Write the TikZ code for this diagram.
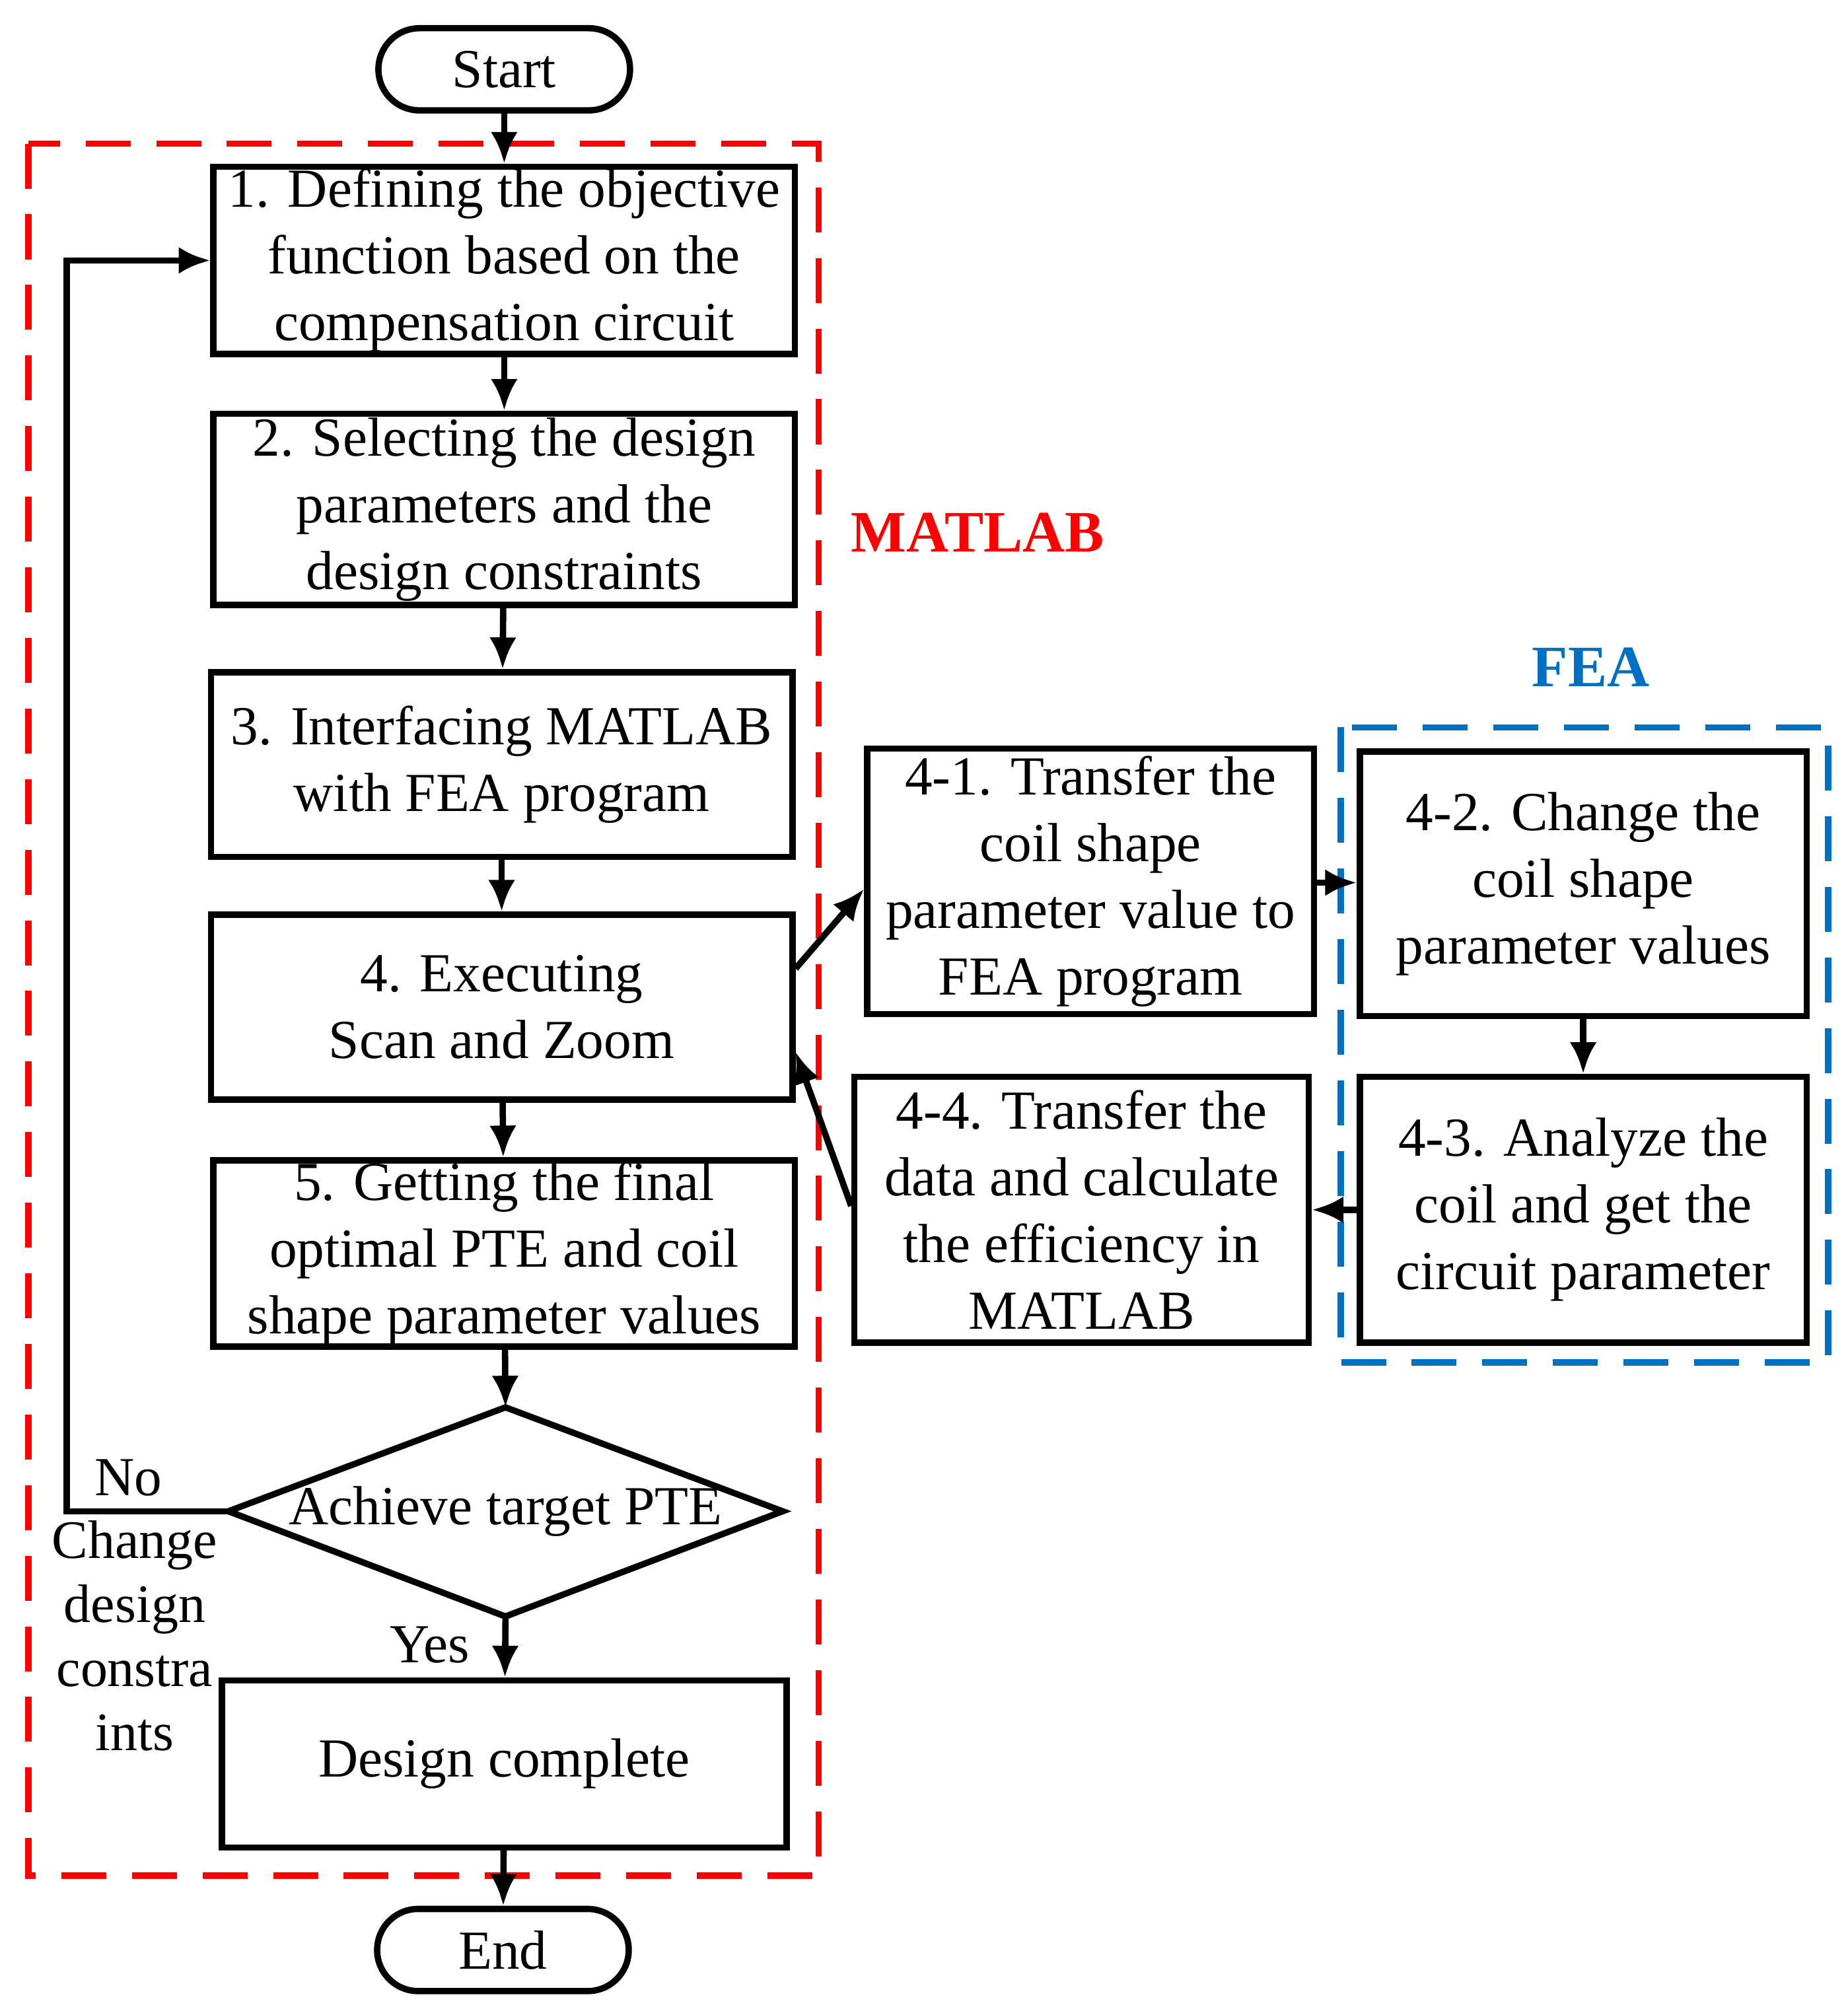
\documentclass[tikz,border=0pt]{standalone}
\usepackage{fontspec}
\setmainfont{Liberation Serif}
\usetikzlibrary{shapes.geometric,arrows.meta}
\definecolor{feablue}{RGB}{0,112,192}
\begin{document}
\begin{tikzpicture}[x=0.01cm,y=-0.01cm,
  every node/.style={font=\fontsize{12.2}{14.8}\selectfont},
  box/.style={draw,line width=1.4pt,align=center,inner sep=0pt},
  arr/.style={line width=1.4pt,-{Latex[length=7pt,width=6pt]}},
  term/.style={draw,line width=1.4pt,rounded corners=0.32cm,minimum width=1.96cm,minimum height=0.64cm,inner sep=0pt}]
\useasboundingbox (0,0) rectangle (1440,1566);
\draw[red,line width=1.4pt,dash pattern=on 0.35cm off 0.2cm] (22,112) rectangle (638,1462);
\draw[feablue,line width=1.4pt,dash pattern=on 0.35cm off 0.2cm] (1045,567) rectangle (1425,1062);
\node[term] (s) at (393,54) {Start};
\node[box,minimum width=4.53cm,minimum height=1.46cm] (b1) at (393,203) {1. Defining the objective\\function based on the\\compensation circuit};
\node[box,minimum width=4.53cm,minimum height=1.49cm] (b2) at (393,397) {2. Selecting the design\\parameters and the\\design constraints};
\node[box,minimum width=4.53cm,minimum height=1.44cm] (b3) at (391,596) {3. Interfacing MATLAB\\with FEA program};
\node[box,minimum width=4.53cm,minimum height=1.44cm] (b4) at (391,785) {4. Executing\\Scan and Zoom};
\node[box,minimum width=4.53cm,minimum height=1.45cm] (b5) at (393,977) {5. Getting the final\\optimal PTE and coil\\shape parameter values};
\node[inner sep=0pt] (d) at (394,1178) {Achieve target PTE};
\coordinate (dw) at (178,1178);
\coordinate (de) at (610,1178);
\coordinate (dn) at (394,1097);
\coordinate (ds) at (394,1260);
\draw[line width=1.4pt] (dw) -- (dn) -- (de) -- (ds) -- cycle;
\node[box,minimum width=4.4cm,minimum height=1.3cm] (dc) at (393,1375) {Design complete};
\node[term] (e) at (392,1520) {End};
\node[box,minimum width=3.48cm,minimum height=2.07cm] (c1) at (850,687) {4-1. Transfer the\\coil shape\\parameter value to\\FEA program};
\node[box,minimum width=3.48cm,minimum height=2.06cm] (c2) at (1234,689) {4-2. Change the\\coil shape\\parameter values};
\node[box,minimum width=3.48cm,minimum height=2.07cm] (c3) at (1234,943) {4-3. Analyze the\\coil and get the\\circuit parameter};
\node[box,minimum width=3.54cm,minimum height=2.07cm] (c4) at (843,943) {4-4. Transfer the\\data and calculate\\the efficiency in\\MATLAB};
\node[red,font=\fontsize{13}{15}\selectfont\bfseries] (ml) at (762,415) {MATLAB};
\node[feablue,font=\fontsize{13}{15}\selectfont\bfseries] (fe) at (1240,520) {FEA};
\node (no) at (100,1152) {No};
\node[align=center,font=\fontsize{12}{14.2}\selectfont] (ch) at (105,1275) {Change\\design\\constra\\ints};
\node (yes) at (335,1282) {Yes};
\coordinate (lb) at (52,1178);
\coordinate (lt) at (52,203);
\draw[arr] (s) -- (b1);
\draw[arr] (b1) -- (b2);
\draw[arr] (b2) -- (b3);
\draw[arr] (b3) -- (b4);
\draw[arr] (b4) -- (b5);
\draw[arr] (b5) -- (dn);
\draw[arr] (ds) -- (dc);
\draw[arr] (dc) -- (e);
\draw[arr] (dw) -- (lb) -- (lt) -- (b1.west);
\draw[arr] (b4.east |- 0,755) -- (c1.west |- 0,693);
\draw[arr] (c1.east |- 0,688) -- (c2.west |- 0,688);
\draw[arr] (c2) -- (c3);
\draw[arr] (c3.west) -- (c4.east);
\draw[arr] (c4.west |- 0,940) -- (b4.east |- 0,820);
\end{tikzpicture}
\end{document}
